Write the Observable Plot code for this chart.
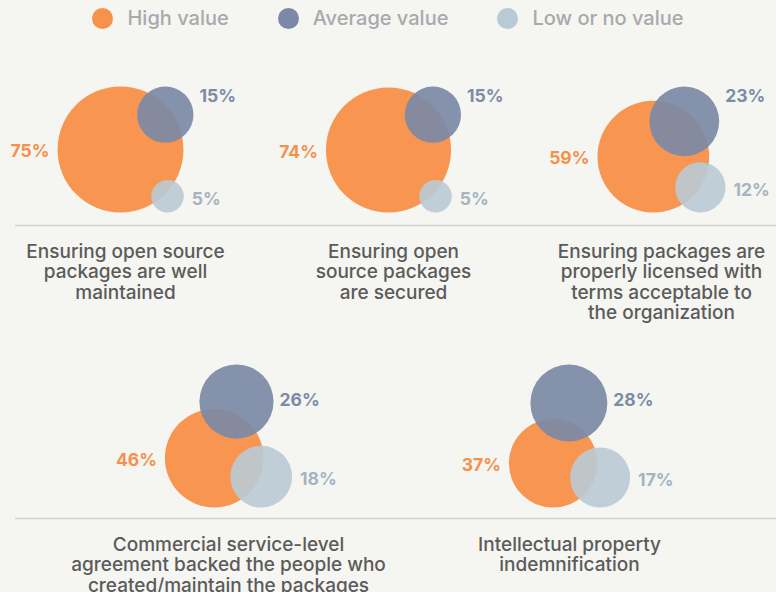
<!DOCTYPE html>
<html>
<head>
<meta charset="utf-8">
<script src="https://cdn.jsdelivr.net/npm/d3@7"></script>
<script src="https://cdn.jsdelivr.net/npm/@observablehq/plot@0.6"></script>
<style>
  html, body { margin: 0; padding: 0; background: #f5f5f1; }
  #wrap { width: 776px; height: 592px; overflow: hidden; position: relative; font-family: Inter, "Noto Sans", sans-serif; }
  #legend { height: 36px; display: flex; justify-content: center; align-items: center; gap: 49px;
            font: 500 20px Inter, sans-serif; color: #a8a9ae; }
  #legend .item { display: flex; align-items: center; gap: 14px; }
  #legend .dot { width: 21px; height: 21px; border-radius: 50%; display: inline-block; }
  #chart svg { display: block; background: transparent; overflow: visible; }
</style>
</head>
<body>
<div id="wrap">
  <div id="legend"></div>
  <div id="chart"></div>
</div>
<script>
// ---- data ----
const categories = [
  "Ensuring open source\npackages are well\nmaintained",
  "Ensuring open\nsource packages\nare secured",
  "Ensuring packages are\nproperly licensed with\nterms acceptable to\nthe organization",
  "Commercial service-level\nagreement backed the people who\ncreated/maintain the packages",
  "Intellectual property\nindemnification"
];
const highValue = [75, 74, 59, 46, 37];
const averageValue = [15, 15, 23, 26, 28];
const lowValue = [5, 5, 12, 18, 17];
const seriesNames = ["High value", "Average value", "Low or no value"];

// ---- styles ----
const circleColors = ["#f7924b", "#7b89a6", "#b9cad4"];
const circleOpacity = [0.97, 0.92, 0.9];
const labelColors = ["#f5914c", "#7e8aa6", "#a6b4c0"];

// legend
const legend = document.getElementById("legend");
seriesNames.forEach((name, i) => {
  const it = document.createElement("span");
  it.className = "item";
  const d = document.createElement("span");
  d.className = "dot";
  d.style.background = circleColors[i];
  it.appendChild(d);
  it.appendChild(document.createTextNode(name));
  legend.appendChild(it);
});

// ---- layout (svg pixel units) ----
const W = 776, H = 556;
const rows = [
  {top: 50, base: 176, sep: 189, anchor0: 125, step: 268, darkLabelDy: 10},
  {top: 328, base: 471, sep: 482, anchor0: 228, step: 341, darkLabelDy: 36}
];
const rScale = Plot.scale({r: {type: "sqrt", domain: [0, 100], range: [0, 72.7]}});
const R = v => rScale.apply(v);

const circles = [], valueLabels = [], catLabels = [];
categories.forEach((cat, i) => {
  const row = rows[i < 3 ? 0 : 1];
  const col = i < 3 ? i : i - 3;
  const anchor = row.anchor0 + col * row.step;
  const vals = [highValue[i], averageValue[i], lowValue[i]];
  const [ro, rd, rl] = vals.map(R);
  const right = Math.max(ro + 10, 47 + rl);
  const ox = anchor - (right - ro) / 2;
  const pos = [
    {cx: ox, cy: row.base - ro},
    {cx: ox + ro + 10 - rd, cy: row.top + rd},
    {cx: ox + 47, cy: row.base - rl}
  ];
  vals.forEach((v, s) => circles.push({panel: i, series: s, value: v, cx: pos[s].cx, cy: pos[s].cy}));
  valueLabels.push({series: 0, text: highValue[i] + "%", x: ox - ro - 8, y: pos[0].cy + 2});
  valueLabels.push({series: 1, text: averageValue[i] + "%", x: pos[1].cx + rd + 6, y: row.top + row.darkLabelDy});
  valueLabels.push({series: 2, text: lowValue[i] + "%", x: pos[2].cx + rl + 8, y: pos[2].cy + 3});
  catLabels.push({text: cat, x: anchor, y: row.sep + 17.5});
});

const marks = [
  Plot.ruleY(rows, {y: "sep", x1: 15, x2: W, stroke: "#d3d3d1", strokeWidth: 1.5})
];
[0, 1, 2].forEach(s => {
  marks.push(Plot.dot(circles.filter(d => d.series === s), {
    x: "cx", y: "cy", r: "value", fill: circleColors[s], fillOpacity: circleOpacity[s], stroke: "none"
  }));
});
[0, 1, 2].forEach(s => {
  marks.push(Plot.text(valueLabels.filter(d => d.series === s), {
    x: "x", y: "y", text: "text", fill: labelColors[s], fontSize: 17.5, fontWeight: 700,
    textAnchor: s === 0 ? "end" : "start"
  }));
});
marks.push(Plot.text(catLabels, {
  x: "x", y: "y", text: "text", lineAnchor: "top", fontSize: 19, lineHeight: 1.08,
  fill: "#5b5b5b", fontWeight: 500, textAnchor: "middle"
}));

const plot = Plot.plot({
  width: W, height: H,
  marginTop: 0, marginRight: 0, marginBottom: 0, marginLeft: 0,
  x: {domain: [0, W], range: [0, W], axis: null},
  y: {domain: [0, H], range: [0, H], axis: null},
  r: {type: "sqrt", domain: [0, 100], range: [0, 72.7]},
  style: {fontFamily: "Inter, 'Noto Sans', sans-serif", background: "transparent", overflow: "visible"},
  marks
});
document.getElementById("chart").appendChild(plot);
</script>
</body>
</html>
